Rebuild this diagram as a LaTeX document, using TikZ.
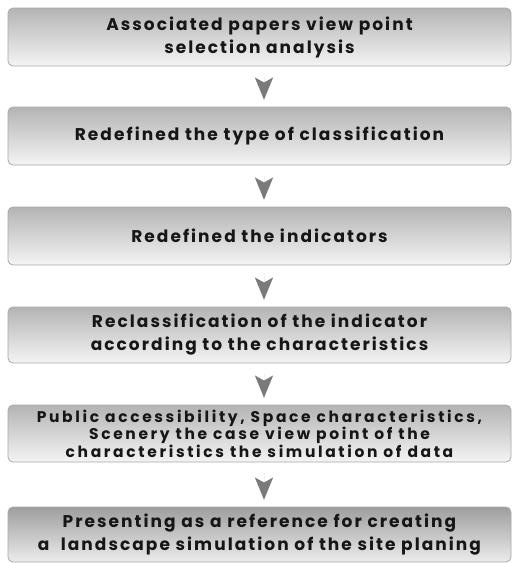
\documentclass[tikz,border=0pt]{standalone}
\usepackage{fontspec}
\setmainfont{Poppins}
\usetikzlibrary{arrows.meta}
\definecolor{boxtop}{HTML}{B4B4B4}
\definecolor{boxbot}{HTML}{F4F4F4}
\definecolor{boxtopdark}{HTML}{9E9E9E}
\definecolor{boxbotdark}{HTML}{ECECEC}
\definecolor{boxline}{HTML}{A8A8A8}
\definecolor{arrowgray}{HTML}{7A7A7A}
\definecolor{txt}{HTML}{161616}
\tikzset{
  flowbox/.style={draw=boxline, line width=0.8pt, rounded corners=5pt,
    top color=boxtop, bottom color=boxbot, minimum width=503pt,
    inner sep=0pt, align=center, text=txt,
    font=\bfseries\fontsize{17}{23}\selectfont\addfontfeatures{LetterSpace=12}},
  darkbox/.style={flowbox, top color=boxtopdark, bottom color=boxbotdark},
  smallbox/.style={font=\bfseries\fontsize{15.5}{17.5}\selectfont\addfontfeatures{LetterSpace=17}},
  flowarrow/.style={draw=arrowgray, line width=0.01pt,
    -{Stealth[length=22pt, width=18pt, inset=5pt, color=arrowgray, fill=arrowgray]},
    shorten <=11pt, shorten >=7pt}
}
\begin{document}
\begin{tikzpicture}[x=1pt,y=-1pt]
\useasboundingbox (0,0) rectangle (512,563);
\node[flowbox, minimum height=58pt] (b1) at (259.5,37) {Associated papers view point\\selection analysis};
\node[flowbox, minimum height=58pt] (b2) at (259.5,136) {Redefined the type of classification};
\node[flowbox, minimum height=58pt] (b3) at (259.5,236) {Redefined the indicators};
\node[flowbox, minimum height=56pt] (b4) at (259.5,335) {Reclassification of the indicator\\according to the characteristics};
\node[flowbox, smallbox, minimum height=57pt] (b5) at (259.5,433.5) {Public accessibility, Space characteristics,\\Scenery the case view point of the\\characteristics the simulation of data};
\node[darkbox, minimum height=55pt] (b6) at (259.5,534.5) {Presenting as a reference for creating\\a\ \ landscape simulation of the site planing};
\coordinate (ax) at (264,0);
\draw[flowarrow] (b1.south -| ax) -- (b2.north -| ax);
\draw[flowarrow] (b2.south -| ax) -- (b3.north -| ax);
\draw[flowarrow] (b3.south -| ax) -- (b4.north -| ax);
\draw[flowarrow] (b4.south -| ax) -- (b5.north -| ax);
\draw[flowarrow] (b5.south -| ax) -- (b6.north -| ax);
\end{tikzpicture}
\end{document}
